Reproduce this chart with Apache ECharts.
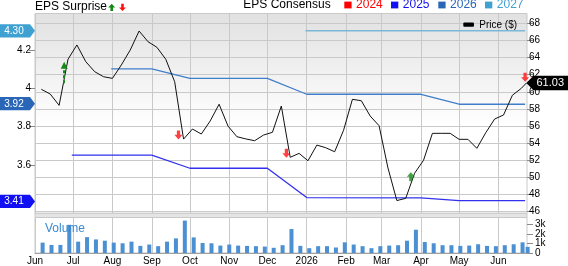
<!DOCTYPE html>
<html><head><meta charset="utf-8">
<script src="https://cdn.jsdelivr.net/npm/echarts@6/dist/echarts.min.js"></script>
<style>html,body{margin:0;padding:0;background:#fff}#c{width:568px;height:266px}</style>
</head><body><div id="c"></div>
<script>
// ---------- data ----------
const monthNames = ['Jan','Feb','Mar','Apr','May','Jun','Jul','Aug','Sep','Oct','Nov','Dec'];
const xStart = '2025-06-01T00:00:00Z';
const xEnd = '2026-06-23T12:00:00Z';
const monthTicks = ['2025-06-01','2025-07-01','2025-08-01','2025-09-01','2025-10-01','2025-11-01','2025-12-01','2026-01-01','2026-02-01','2026-03-01','2026-04-01','2026-05-01','2026-06-01'];
const firstWeek = '2025-06-06';
const lastDate = '2026-06-23';
const priceValues = [60.29,59.74,58.42,63.8,65.47,63.52,62.35,61.76,61.57,63.13,64.88,67.1,65.85,65.2,63.8,61.18,54.48,55.65,55.07,56.6,58.55,56.0,54.76,54.5,54.29,54.95,55.27,58.34,52.35,52.81,51.95,53.78,53.47,53.0,55.5,59.12,58.96,57.17,56.04,51.1,47.3,47.56,50.5,52.0,55.15,55.15,55.15,54.45,54.45,53.4,55.22,56.82,57.29,59.6,60.4,61.03];
const volumeValues = [1.08,0.84,0.84,2.93,1.18,1.65,1.41,1.28,1.08,1.01,1.18,0.74,0.88,0.71,1.18,1.52,3.37,1.62,1.04,1.01,0.77,0.88,0.77,0.74,0.71,0.67,0.54,0.81,2.49,0.74,0.5,0.71,0.71,0.57,1.11,0.88,0.71,0.5,0.71,0.77,0.81,1.28,2.42,1.14,1.01,0.81,0.81,0.74,0.77,0.91,0.74,0.71,0.81,0.91,1.11,0.64];
const eps2025Dates = ['2025-06-30','2025-09-01','2025-10-01','2025-12-01','2026-01-01','2026-04-01','2026-05-01','2026-06-22'];
const eps2025Values = [3.652,3.652,3.583,3.583,3.430,3.428,3.414,3.414];
const eps2026Dates = ['2025-07-31','2025-09-01','2025-10-01','2025-12-01','2026-01-01','2026-04-01','2026-05-01','2026-06-22'];
const eps2026Values = [4.101,4.101,4.052,4.052,3.969,3.969,3.917,3.917];
const eps2027Dates = ['2025-12-31','2026-06-22'];
const eps2027Values = [4.30,4.30];
const surpriseUpDates = ['2026-03-24'];
const surpriseUpValues = [50.09];
const surpriseDownDates = ['2025-09-22','2025-12-16','2026-06-22'];
const surpriseDownValues = [54.96,52.82,61.7];
const longSurpriseDate = '2025-06-24';
const longSurpriseFrom = 61.0;
const longSurpriseTo = 63.1;
const epsTicks = [3.6,3.8,4,4.2];
const priceTicks = [46,48,50,52,54,56,58,60,62,64,66,68];
const volumeTicks = [0,1,2,3];
const volumeTickLabels = ['0','1k','2k','3k'];
const epsBadgeValues = ['4.30','3.92','3.41'];
const lastPrice = '61.03';
const legendYears = ['2024','2025','2026','2027'];

// ---------- helpers ----------
const T = s => Date.parse(s.length === 10 ? s + 'T00:00:00Z' : s);
const DAY = 86400000;
const X_MIN = T(xStart), X_MAX = T(xEnd);
const monthTs = monthTicks.map(T);
const priceDates = priceValues.map((v, i) => i < priceValues.length - 1 ? T(firstWeek) + i * 7 * DAY : T(lastDate));
const volDates = priceDates.map(t => t + DAY);
const zip = (a, b) => a.map((d, i) => [typeof d === 'number' ? d : T(d), b[i]]);

const FONT = '"Liberation Sans", Arial, Helvetica, sans-serif';
const GRID_C = '#c9c9c9';
const C2024 = '#ff0000', C2025 = '#1010f2', C2026 = '#2a66b8', C2027 = '#3fa1d2';
const LINE2025 = '#3131ee', LINE2026 = '#3f7ecb', LINE2027 = '#7ab7d8';

const UP = 'path://M4,0L8,4.6L5.6,4.6L5.6,9L2.4,9L2.4,4.6L0,4.6Z';
const DOWN = 'path://M4,9L8,4.4L5.6,4.4L5.6,0L2.4,0L2.4,4.4L0,4.4Z';

const chart = echarts.init(document.getElementById('c'), null, {renderer: 'canvas'});
const option = {
  animation: false,
  backgroundColor: '#ffffff',
  textStyle: {fontFamily: FONT},
  grid: [
    {left: 35, right: 41, top: 13.5, bottom: 52.7, show: true, borderColor: GRID_C, borderWidth: 1,
     backgroundColor: {type: 'linear', x: 0, y: 0, x2: 0, y2: 1, colorStops: [
       {offset: 0, color: '#e1e1e1'}, {offset: 0.56, color: '#ffffff'}, {offset: 1, color: '#ffffff'}]}},
    {left: 35, right: 41, top: 217.5, bottom: 12, show: true, borderColor: GRID_C, borderWidth: 1, backgroundColor: '#ffffff'}
  ],
  xAxis: [
    {type: 'value', gridIndex: 0, min: X_MIN, max: X_MAX,
     axisLine: {show: false}, axisTick: {show: false, customValues: monthTs},
     axisLabel: {show: false, customValues: monthTs},
     splitLine: {show: true, lineStyle: {color: GRID_C, width: 1}}},
    {type: 'value', gridIndex: 1, min: X_MIN, max: X_MAX,
     axisLine: {show: true, lineStyle: {color: '#a0a0a0', width: 1}},
     axisTick: {show: false, customValues: monthTs},
     axisLabel: {customValues: monthTs, fontSize: 10, color: '#000', margin: 3, fontFamily: FONT, hideOverlap: false,
       formatter: v => { const d = new Date(v); const m = d.getUTCMonth(); return m === 0 ? String(d.getUTCFullYear()) : monthNames[m]; }},
     splitLine: {show: true, lineStyle: {color: GRID_C, width: 1}}}
  ],
  yAxis: [
    {type: 'value', gridIndex: 0, position: 'left', min: 3.348, max: 4.3904,
     axisLine: {show: false},
     axisTick: {show: true, length: 6, lineStyle: {color: '#8a8a8a'}, customValues: epsTicks},
     axisLabel: {customValues: epsTicks, fontSize: 10, color: '#000', margin: 4, fontFamily: FONT},
     splitLine: {show: false}},
    {type: 'value', gridIndex: 0, position: 'right', min: 45.813, max: 69.144,
     axisLine: {show: false},
     axisTick: {show: true, length: 6, lineStyle: {color: '#8a8a8a'}, customValues: priceTicks},
     axisLabel: {customValues: priceTicks, fontSize: 10, color: '#000', margin: 2, fontFamily: FONT},
     splitLine: {show: true, lineStyle: {color: GRID_C, width: 1}}},
    {type: 'value', gridIndex: 1, position: 'right', min: 0, max: 3.69,
     axisLine: {show: false},
     axisTick: {show: true, length: 6, lineStyle: {color: '#8a8a8a'}, customValues: volumeTicks},
     axisLabel: {show: false, customValues: volumeTicks},
     splitLine: {show: false}}
  ],
  series: [
    {type: 'bar', name: 'Volume', xAxisIndex: 1, yAxisIndex: 2, barWidth: 4,
     itemStyle: {color: '#4a90d2'}, data: zip(volDates, volumeValues), z: 2},
    {type: 'line', name: '2025', xAxisIndex: 0, yAxisIndex: 0, symbol: 'none',
     lineStyle: {color: LINE2025, width: 1.3}, data: zip(eps2025Dates, eps2025Values), z: 3},
    {type: 'line', name: '2026', xAxisIndex: 0, yAxisIndex: 0, symbol: 'none',
     lineStyle: {color: LINE2026, width: 1.3}, data: zip(eps2026Dates, eps2026Values), z: 3},
    {type: 'line', name: '2027', xAxisIndex: 0, yAxisIndex: 0, symbol: 'none',
     lineStyle: {color: LINE2027, width: 1.5}, data: zip(eps2027Dates, eps2027Values), z: 3},
    {type: 'line', name: 'Price', xAxisIndex: 0, yAxisIndex: 1, symbol: 'none',
     lineStyle: {color: '#111111', width: 1}, data: zip(priceDates, priceValues), z: 4},
    {type: 'scatter', name: 'up', xAxisIndex: 0, yAxisIndex: 1, symbol: UP, symbolSize: [8, 9],
     itemStyle: {color: '#138a13'}, data: zip(surpriseUpDates, surpriseUpValues), z: 6,
     markLine: {silent: true, symbol: ['none', 'triangle'], symbolSize: [7, 7], animation: false,
       lineStyle: {type: [3, 2], color: '#138a13', width: 2}, label: {show: false},
       data: [[{coord: [T(longSurpriseDate), longSurpriseFrom]}, {coord: [T(longSurpriseDate), longSurpriseTo]}]]}},
    {type: 'scatter', name: 'down', xAxisIndex: 0, yAxisIndex: 1, symbol: DOWN, symbolSize: [8, 9],
     itemStyle: {color: '#ff1010'}, data: zip(surpriseDownDates, surpriseDownValues), z: 6}
  ]
};
chart.setOption(option);

// ---------- annotations ----------
const g = [];
const txt = (x, y, text, size, fill, align) => ({type: 'text', x, y, z: 100,
  style: {text, font: size + 'px ' + FONT, fill, align: align || 'left', verticalAlign: 'middle'}});
// titles
g.push(txt(35, 6.6, 'EPS Surprise', 12, '#000'));
g.push({type: 'polygon', z: 100, shape: {points: [[111.7,3.8],[115.2,7.4],[113,7.4],[113,11],[110.4,11],[110.4,7.4],[108.2,7.4]]}, style: {fill: '#138a13'}});
g.push({type: 'polygon', z: 100, shape: {points: [[122.5,11],[126,7.4],[123.8,7.4],[123.8,3.8],[121.2,3.8],[121.2,7.4],[119,7.4]]}, style: {fill: '#ff1010'}});
g.push(txt(243.3, 5, 'EPS Consensus', 12, '#000'));
const legCols = [C2024, C2025, C2026, C2027];
const legX = [344.3, 391, 438.3, 485];
legendYears.forEach((y, i) => {
  g.push({type: 'rect', z: 100, shape: {x: legX[i], y: 1.6, width: 7.3, height: 6.8}, style: {fill: legCols[i]}});
  g.push(txt(legX[i] + 11.8, 5, y, 12, legCols[i]));
});
// price legend
g.push({type: 'rect', z: 100, shape: {x: 463.3, y: 22.6, width: 10.7, height: 4.2, r: 1}, style: {fill: '#000'}});
g.push(txt(479.3, 24.8, 'Price ($)', 10, '#000'));
// separator band between panels
g.push({type: 'rect', z: 50, shape: {x: 35, y: 213.3, width: 492, height: 4.2}, style: {fill: '#e4e4e4', stroke: GRID_C, lineWidth: 1}});
// volume label
g.push(txt(45, 228.5, 'Volume', 12, '#3a8ad0'));
// volume axis labels (drawn as text so tightly packed labels all show)
volumeTicks.forEach((v, i) => {
  const yv = chart.convertToPixel({yAxisIndex: 2}, v);
  g.push(txt(535, yv, volumeTickLabels[i], 10, '#000'));
});
// EPS badges
const badgeCols = [C2027, C2026, C2025];
epsBadgeValues.forEach((v, i) => {
  const yc = chart.convertToPixel({yAxisIndex: 0}, parseFloat(v));
  g.push({type: 'polygon', z: 100, shape: {points: [[0, yc - 6.7], [30, yc - 6.7], [35, yc], [30, yc + 6.7], [0, yc + 6.7]]}, style: {fill: badgeCols[i]}});
  g.push(txt(14, yc + 0.3, v, 10, '#fff', 'center'));
});
// last price badge
{
  const yc = chart.convertToPixel({yAxisIndex: 1}, parseFloat(lastPrice));
  const xc = chart.convertToPixel({xAxisIndex: 0}, T(lastDate));
  g.push({type: 'polygon', z: 100, shape: {points: [[xc, yc], [xc + 7, yc - 7.2], [568, yc - 7.2], [568, yc + 7.2], [xc + 7, yc + 7.2]]}, style: {fill: '#000'}});
  g.push(txt(536.5, yc + 0.3, lastPrice, 11, '#fff'));
}
chart.setOption({graphic: g});
</script>
</body></html>
